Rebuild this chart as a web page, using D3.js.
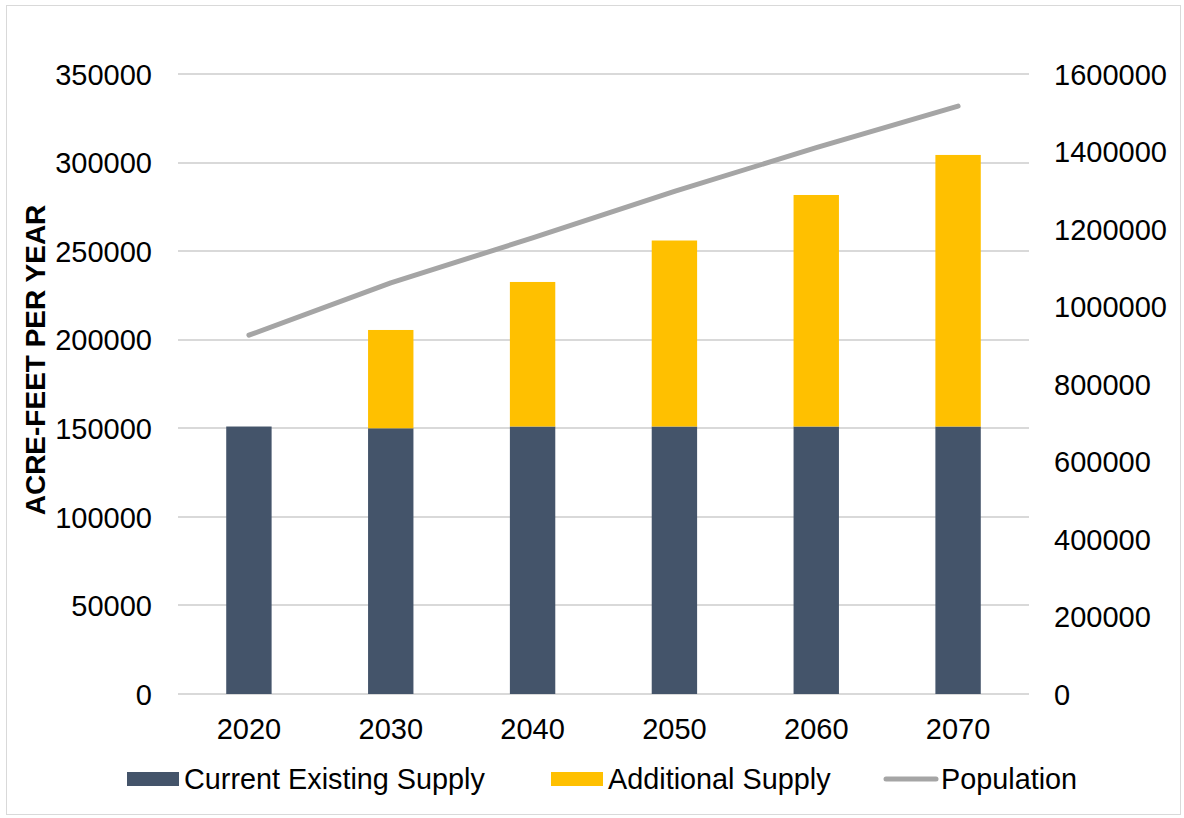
<!DOCTYPE html>
<html lang="en">
<head>
    <meta charset="UTF-8">
    <title>Supply and Population</title>
    <script src="https://cdn.jsdelivr.net/npm/d3@7"></script>
    <style>
        body { margin: 0; background: #fff; }
        text { font-family: "Liberation Sans", Arial, sans-serif; fill: #000; }
    </style>
</head>
<body>
<script>
    // data
    var years = ["2020", "2030", "2040", "2050", "2060", "2070"];
    var currentSupply = [151000, 150000, 151000, 151000, 151000, 151000];
    var additionalSupply = [0, 55500, 81600, 105000, 130700, 153300];
    var population = [926000, 1061000, 1177000, 1297000, 1410000, 1517000];
    var leftTicks = [0, 50000, 100000, 150000, 200000, 250000, 300000, 350000];
    var rightTicks = [0, 200000, 400000, 600000, 800000, 1000000, 1200000, 1400000, 1600000];
    var seriesNames = ["Current Existing Supply", "Additional Supply", "Population"];
    var colors = ["#44546A", "#FFC000", "#A5A5A5"];

    var W = 1184, H = 818;
    var pLeft = 178, pRight = 1029, pTop = 74, pBottom = 694;

    var svg = d3.select("body").append("svg").attr("width", W).attr("height", H);

    // outer frame
    svg.append("rect").attr("x", 6.5).attr("y", 5.5).attr("width", W - 10).attr("height", H - 9)
        .attr("fill", "none").attr("stroke", "#d9d9d9").attr("stroke-width", 1);

    var x = d3.scaleBand().domain(years).range([pLeft, pRight]).paddingInner(0.68).paddingOuter(0.34);
    var y = d3.scaleLinear().domain([0, 350000]).range([pBottom, pTop]);
    var y2 = d3.scaleLinear().domain([0, 1600000]).range([pBottom, pTop]);

    // gridlines
    svg.append("g").selectAll("line").data(leftTicks).enter().append("line")
        .attr("x1", pLeft).attr("x2", pRight)
        .attr("y1", function (d) { return Math.round(y(d)); })
        .attr("y2", function (d) { return Math.round(y(d)); })
        .attr("stroke", "#d9d9d9").attr("stroke-width", 2);

    // left axis
    var ax = svg.append("g").attr("transform", "translate(" + (pLeft - 26) + ",0)")
        .call(d3.axisLeft(y).tickValues(leftTicks).tickFormat(d3.format("d")).tickSize(0).tickPadding(0));
    ax.select(".domain").remove();
    ax.selectAll("text").attr("font-size", 29).attr("dy", "0.35em")
        .style("font-family", "'Liberation Sans', Arial, sans-serif");

    // right axis
    var ax2 = svg.append("g").attr("transform", "translate(" + (pRight + 25) + ",0)")
        .call(d3.axisRight(y2).tickValues(rightTicks).tickFormat(d3.format("d")).tickSize(0).tickPadding(0));
    ax2.select(".domain").remove();
    ax2.selectAll("text").attr("font-size", 29).attr("dy", "0.35em")
        .style("font-family", "'Liberation Sans', Arial, sans-serif");

    // bottom axis
    var axb = svg.append("g").attr("transform", "translate(0," + (pBottom + 23) + ")")
        .call(d3.axisBottom(x).tickSize(0).tickPadding(0));
    axb.select(".domain").remove();
    axb.selectAll("text").attr("font-size", 29).attr("dy", "0.75em")
        .style("font-family", "'Liberation Sans', Arial, sans-serif");

    // y title
    svg.append("text")
        .attr("transform", "translate(45," + ((pTop + pBottom) / 2 - 24) + ") rotate(-90)")
        .attr("text-anchor", "middle").attr("font-size", 28).attr("font-weight", "bold")
        .text("ACRE-FEET PER YEAR");

    // stacked bars
    var rows = years.map(function (yr, i) {
        return { year: yr, current: currentSupply[i], additional: additionalSupply[i] };
    });
    var stack = d3.stack().keys(["current", "additional"])(rows);
    svg.append("g").selectAll("g").data(stack).enter().append("g")
        .attr("fill", function (d, i) { return colors[i]; })
        .selectAll("rect").data(function (d) { return d; }).enter().append("rect")
        .attr("x", function (d) { return x(d.data.year); })
        .attr("width", x.bandwidth())
        .attr("y", function (d) { return y(d[1]); })
        .attr("height", function (d) { return y(d[0]) - y(d[1]); });

    // population line
    var line = d3.line()
        .x(function (d, i) { return x(years[i]) + x.bandwidth() / 2; })
        .y(function (d) { return y2(d); });
    svg.append("path").datum(population).attr("d", line)
        .attr("fill", "none").attr("stroke", colors[2]).attr("stroke-width", 5)
        .attr("stroke-linecap", "round").attr("stroke-linejoin", "round");

    // legend
    var legX = [127, 551, 884];
    var legY = 779;
    var leg = svg.append("g");
    seriesNames.forEach(function (name, i) {
        if (i < 2) {
            leg.append("rect").attr("x", legX[i]).attr("y", legY - 7).attr("width", 52).attr("height", 14)
                .attr("fill", colors[i]);
        } else {
            leg.append("line").attr("x1", legX[i] + 2).attr("x2", legX[i] + 52)
                .attr("y1", legY).attr("y2", legY)
                .attr("stroke", colors[i]).attr("stroke-width", 5).attr("stroke-linecap", "round");
        }
        leg.append("text").attr("x", legX[i] + 57).attr("y", legY).attr("dy", "0.35em")
            .attr("font-size", 28.8).text(name);
    });
</script>
</body>
</html>
